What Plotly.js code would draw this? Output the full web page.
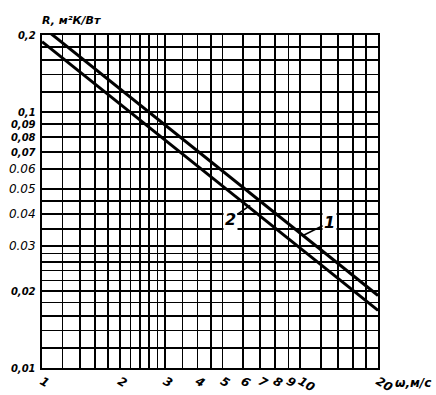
<!DOCTYPE html>
<html><head><meta charset="utf-8">
<script src="https://cdn.plot.ly/plotly-3.0.1.min.js"></script>
<style>html,body{margin:0;padding:0;background:#fff}</style>
</head><body>
<div id="chart" style="width:436px;height:395px"></div>
<script>
// Data
const line1X = [1, 2, 5, 10, 20];
const line1Y = [0.216, 0.1233, 0.059, 0.0337, 0.0192];
const line2X = [1, 2, 5, 10, 20];
const line2Y = [0.1884, 0.1077, 0.0515, 0.0294, 0.0168];

const xGrid = [1, 1.2, 1.4, 1.6, 1.8, 2, 2.2, 2.4, 2.6, 2.8, 3, 3.5, 4, 4.5, 5, 6, 7, 8, 9, 10, 12, 14, 16, 18, 20];
const xLabels = {1:'1', 2:'2', 3:'3', 4:'4', 5:'5', 6:'6', 7:'7', 8:'8', 9:'9', 10:'10', 20:'20'};
const yGrid = [0.01, 0.012, 0.014, 0.016, 0.018, 0.02, 0.022, 0.024, 0.026, 0.028, 0.03, 0.035, 0.04, 0.045, 0.05, 0.06, 0.07, 0.08, 0.09, 0.1, 0.12, 0.14, 0.16, 0.18, 0.2];
const yLabels = {0.01:'0,01', 0.02:'0,02', 0.03:'0.03', 0.04:'0.04', 0.05:'0.05', 0.06:'0.06', 0.07:'0,07', 0.08:'0,08', 0.09:'0,09', 0.1:'0,1', 0.2:'0,2'};
const smallYLabels = [0.1, 0.09, 0.08, 0.07, 0.2, 0.02, 0.01];

const font = {family: 'DejaVu Sans', size: 12, color: '#000', style: 'italic'};

const traces = [
  {x: line1X, y: line1Y, mode: 'lines', line: {color: '#000', width: 3}, name: '1'},
  {x: line2X, y: line2Y, mode: 'lines', line: {color: '#000', width: 3}, name: '2'}
];

function yText(v) {
  const t = yLabels[v];
  if (!t) return '';
  if (smallYLabels.includes(v)) return '<span style="font-size:10px"><b>' + t + '</b></span>';
  return t;
}

const layout = {
  width: 436, height: 395,
  margin: {l: 42, r: 58, t: 35, b: 27},
  paper_bgcolor: '#fff', plot_bgcolor: '#fff',
  showlegend: false,
  font: font,
  xaxis: {
    type: 'log', range: [0, Math.log10(20)],
    tickmode: 'array', tickvals: xGrid, ticktext: xGrid.map(v => xLabels[v] ? '<b>' + xLabels[v] + '</b>' : ''),
    showgrid: true, gridcolor: '#000', gridwidth: 1.6,
    showline: true, linecolor: '#000', linewidth: 2, mirror: true,
    ticks: '', tickfont: font, zeroline: false
  },
  yaxis: {
    type: 'log', range: [Math.log10(0.01), Math.log10(0.2)],
    tickmode: 'array', tickvals: yGrid, ticktext: yGrid.map(yText),
    showgrid: true, gridcolor: '#000', gridwidth: 1.6,
    showline: true, linecolor: '#000', linewidth: 2, mirror: true,
    ticks: '', tickfont: font, zeroline: false, ticklabelstandoff: 2
  },
  annotations: [
    {x: Math.log10(6.4), y: Math.log10(0.0432), xref: 'x', yref: 'y', text: '<b>2</b>', showarrow: true,
     arrowhead: 0, arrowwidth: 1.5, arrowcolor: '#000', ax: -20, ay: 14, bgcolor: '#fff',
     font: {family: 'DejaVu Sans', size: 16, style: 'italic', color: '#000'}},
    {x: Math.log10(10.3), y: Math.log10(0.033), xref: 'x', yref: 'y', text: '<b>1</b>', showarrow: true,
     arrowhead: 0, arrowwidth: 1.5, arrowcolor: '#000', ax: 26, ay: -13, bgcolor: '#fff',
     font: {family: 'DejaVu Sans', size: 16, style: 'italic', color: '#000'}},
    {xref: 'paper', yref: 'paper', x: 1.0, y: 0, xanchor: 'left', yanchor: 'top', yshift: -6, xshift: 15,
     text: '<b>ω,м/с</b>', showarrow: false, font: {family: 'DejaVu Sans', size: 12, style: 'italic', color: '#000'}},
    {xref: 'paper', yref: 'paper', x: 0, y: 1, xanchor: 'left', yanchor: 'bottom', yshift: 6, xshift: -2,
     text: '<b>R, м²К/Вт</b>', showarrow: false, font: {family: 'DejaVu Sans', size: 11, style: 'italic', color: '#000'}}
  ]
};

Plotly.newPlot('chart', traces, layout, {displayModeBar: false, staticPlot: true});
</script>
</body></html>
